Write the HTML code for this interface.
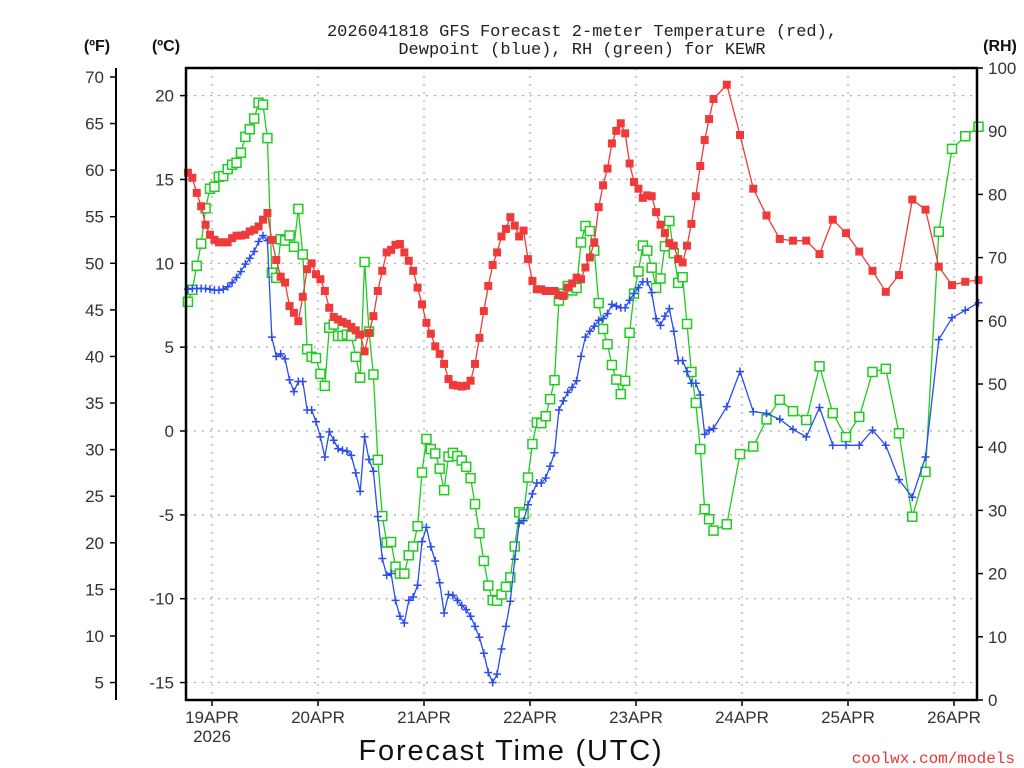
<!DOCTYPE html>
<html><head><meta charset="utf-8"><style>
html,body{margin:0;padding:0;background:#fff;}
svg{display:block;font-family:"Liberation Sans",sans-serif;}
</style></head><body>
<svg id="chart" width="1024" height="768" viewBox="0 0 1024 768" xmlns="http://www.w3.org/2000/svg">
<text x="582" y="36" text-anchor="middle" font-size="17" fill="#222" font-family="Liberation Mono, monospace">2026041818 GFS Forecast 2-meter Temperature (red),</text>
<text x="582" y="54" text-anchor="middle" font-size="17" fill="#222" font-family="Liberation Mono, monospace">Dewpoint (blue), RH (green) for KEWR</text>
<text x="97" y="51" text-anchor="middle" font-size="16" font-weight="bold" fill="#111">(ºF)</text>
<text x="166" y="51" text-anchor="middle" font-size="16" font-weight="bold" fill="#111">(ºC)</text>
<text x="1000" y="51" text-anchor="middle" font-size="16" font-weight="bold" fill="#111">(RH)</text>
<text x="511" y="760" text-anchor="middle" font-size="29" fill="#111" letter-spacing="1.8">Forecast Time (UTC)</text>
<text x="1015" y="763" text-anchor="end" font-size="16" fill="#e33" font-family="Liberation Mono, monospace">coolwx.com/models</text>
<g id="grid"></g><g id="axes"></g><g id="series"></g>
<rect x="186" y="68" width="791" height="632" fill="none" stroke="#000" stroke-width="2.5"/>
</svg>
<script>
const tempHourly=[15.4,15.1,14.2,13.4,12.3,11.7,11.4,11.25,11.25,11.25,11.5,11.65,11.65,11.7,11.9,12.0,12.2,12.6,13.0,11.4,10.2,9.2,8.85,7.45,7.05,6.55,8.0,9.65,10.0,9.35,9.05,8.35,7.35,6.8,6.65,6.5,6.4,6.2,6.0,5.75,4.75,5.85,6.85,8.35,9.55,10.65,10.8,11.1,
11.15,10.65,10.15,9.55,8.55,7.55,6.45,5.8,5.05,4.6,4.0,3.1,2.75,2.7,2.65,2.7,3.0,4.0,5.55,7.15,8.65,9.9,10.65,11.6,12.05,12.75,12.25,11.6,11.95,10.25,8.95,8.45,8.45,8.35,8.35,8.35,8.1,8.05,8.55,8.8,9.15,9.05,9.75,10.35,11.25,13.35,
14.65,15.65,17.15,17.9,18.35,17.75,15.95,14.85,14.45,13.9,14.05,14.0,13.05,12.3,11.8,11.2,11.05,10.25,10.05,11.05,12.35,14.0,15.8,17.35,18.6,19.8];
const temp3h=[20.65,17.65,14.45,12.85,11.45,11.35,11.35,10.55,12.6,11.8,10.7,9.55,8.3,9.3,13.8,13.2,9.8,8.7,8.9,9.0];
const dewHourly=[8.45,8.5,8.5,8.5,8.5,8.45,8.4,8.4,8.45,8.6,8.85,9.15,9.5,9.95,10.3,10.7,11.3,11.65,11.35,5.6,4.45,4.6,4.3,3.05,2.35,2.95,2.95,1.25,1.25,0.55,-0.35,-1.55,-0.05,-0.55,-1.05,-1.15,-1.2,-1.45,-2.5,-3.6,-0.35,-1.7,-2.4,-5.1,-7.6,-8.6,-8.5,-10.1,
-11.05,-11.45,-10.1,-9.9,-9.2,-6.6,-5.75,-6.9,-7.75,-9.05,-10.85,-9.75,-9.8,-10.1,-10.4,-10.65,-11.05,-11.65,-12.3,-13.25,-14.4,-15.0,-14.5,-13.0,-11.65,-10.15,-7.65,-5.5,-5.35,-4.4,-3.75,-3.1,-3.1,-2.8,-2.1,-1.3,1.25,1.8,2.3,2.6,3.0,4.45,5.6,5.95,6.25,6.6,6.7,7.0,7.55,
7.45,7.35,7.35,7.8,8.2,8.55,8.9,8.9,8.25,6.7,6.3,6.85,7.3,5.95,4.2,4.2,3.55,2.85,2.85,2.15,-0.2,0.05,0.15];
const dew3h=[1.45,3.55,1.15,1.05,0.7,0.1,-0.35,1.4,-0.85,-0.85,-0.85,0.05,-0.85,-2.9,-3.95,-1.55,5.45,6.75,7.2,7.65];
const rhHourly=[63.0,64.9,68.7,72.2,77.8,80.9,81.2,82.8,82.9,84.0,84.7,85.0,86.6,89.1,90.3,92.0,94.5,94.2,88.9,67.6,66.8,72.9,72.7,73.5,71.7,77.7,70.5,55.5,54.3,54.1,51.6,49.7,58.9,59.4,57.6,57.6,57.8,57.6,54.3,51.0,69.3,58.3,51.5,38.0,29.1,24.9,25.0,21.1,
20.0,20.0,22.9,24.3,27.5,36.0,41.3,39.7,39.0,36.6,33.2,38.5,39.1,38.6,37.9,36.9,35.1,31.0,26.4,22.0,18.1,15.8,15.7,16.7,17.9,19.4,24.3,29.7,29.4,35.2,40.5,43.9,43.8,44.9,47.6,50.6,63.2,64.3,65.5,64.8,65.2,72.4,75.0,74.2,71.1,62.8,58.7,56.3,53.0,
50.7,48.4,50.5,58.1,64.3,67.8,71.9,71.1,68.4,65.2,66.7,71.8,75.8,70.7,66.0,66.9,59.5,51.9,47.0,39.7,30.2,28.6,26.8];
const rh3h=[27.8,38.9,40.1,44.4,47.5,45.7,44.3,52.8,45.4,41.6,44.8,51.9,52.4,42.2,29.0,36.1,74.1,87.2,89.2,90.7];
const dayLabels=["19APR","20APR","21APR","22APR","23APR","24APR","25APR","26APR"];
const celsiusTicks=[-15,-10,-5,0,5,10,15,20];
const fahrenheitTicks=[5,10,15,20,25,30,35,40,45,50,55,60,65,70];
const rhTicks=[0,10,20,30,40,50,60,70,80,90,100];

const NS="http://www.w3.org/2000/svg";
const X0=185.5,PXH=106/24,DATA_SHIFT=0.55;
const xOf=h=>X0+h*PXH;
const xData=h=>xOf(h+DATA_SHIFT);
const yC=c=>431-c*16.77;
const yRH=r=>700-r*6.32;
function mk(tag,attrs,parent){const e=document.createElementNS(NS,tag);for(const k in attrs)e.setAttribute(k,attrs[k]);parent.appendChild(e);return e;}
const grid=document.getElementById('grid'),axes=document.getElementById('axes'),series=document.getElementById('series');
function hoursOf(hourly,three){const hs=[];hourly.forEach((v,i)=>hs.push([i,v]));three.forEach((v,i)=>hs.push([122+3*i,v]));return hs;}

celsiusTicks.forEach(c=>{
  const y=yC(c);
  const g=mk('line',{x1:186,x2:977,y1:y,y2:y,stroke:'#aaa','stroke-width':1.2,'stroke-dasharray':'2,6'},grid);
  
  
  const t=mk('line',{x1:180,x2:186,y1:y,y2:y,stroke:'#000','stroke-width':1.5},axes);
  
  
  const l=mk('text',{x:174,y:y+6,'text-anchor':'end','font-size':17,fill:'#333'},axes);l.textContent=c;
  
  
});
const fl=mk('line',{x1:116,x2:116,y1:68,y2:700,stroke:'#000','stroke-width':2},axes);


fahrenheitTicks.forEach(f=>{
  const y=yC((f-32)*5/9);
  const t=mk('line',{x1:110,x2:116,y1:y,y2:y,stroke:'#000','stroke-width':1.5},axes);
  
  
  const l=mk('text',{x:104,y:y+6,'text-anchor':'end','font-size':17,fill:'#333'},axes);l.textContent=f;
  
  
});
rhTicks.forEach(r=>{
  const y=yRH(r);
  const t=mk('line',{x1:977,x2:983,y1:y,y2:y,stroke:'#000','stroke-width':1.5},axes);
  
  
  const l=mk('text',{x:988,y:y+6,'text-anchor':'start','font-size':17,fill:'#333'},axes);l.textContent=r;
  
  
});
dayLabels.forEach((d,i)=>{
  const x=xOf(6+24*i);
  const g=mk('line',{x1:x,x2:x,y1:68,y2:700,stroke:'#aaa','stroke-width':1.2,'stroke-dasharray':'2,6'},grid);
  
  
  const t=mk('line',{x1:x,x2:x,y1:700,y2:706,stroke:'#000','stroke-width':1.5},axes);
  
  
  const l=mk('text',{x:x,y:723,'text-anchor':'middle','font-size':17,fill:'#333'},axes);l.textContent=d;
  
  
});
const yr=mk('text',{x:xOf(6),y:742,'text-anchor':'middle','font-size':17,fill:'#333'},axes);yr.textContent="2026";



function drawSeries(pts,yf,color,kind,name){
  const d=pts.map((p,i)=>(i?'L':'M')+xData(p[0]).toFixed(1)+' '+yf(p[1]).toFixed(1)).join('');
  const path=mk('path',{d:d,fill:'none',stroke:color,'stroke-width':1.3},series);
  
  
  pts.forEach(p=>{
    const x=xData(p[0]),y=yf(p[1]);let m;
    if(kind==='fill'){m=mk('rect',{x:x-4,y:y-4,width:8,height:8,fill:color},series);}
    else if(kind==='open'){m=mk('rect',{x:x-4.5,y:y-4.5,width:9,height:9,fill:'#fff',stroke:color,'stroke-width':1.5},series);}
    else {m=mk('path',{d:`M${x-4} ${y}H${x+4}M${x} ${y-4}V${y+4}`,stroke:color,'stroke-width':1.5,fill:'none'},series);}
    
    
  });
}
drawSeries(hoursOf(rhHourly,rh3h),yRH,'#1fcc1f','open','rh');
drawSeries(hoursOf(dewHourly,dew3h),yC,'#2b4cf0','plus','dewpoint');
drawSeries(hoursOf(tempHourly,temp3h),yC,'#f03a3a','fill','temperature');
</script>
</body></html>
